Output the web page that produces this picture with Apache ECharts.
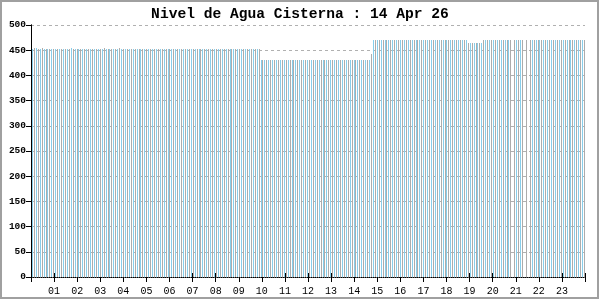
<!DOCTYPE html>
<html><head><meta charset="utf-8">
<script src="https://cdn.jsdelivr.net/npm/echarts@6/dist/echarts.min.js"></script>
<style>html,body{margin:0;padding:0;background:#fff}#c{width:600px;height:300px}</style>
</head><body><div id="c"></div>
<script>
const chartTitle = 'Nivel de Agua Cisterna : 14 Apr 26';
const hourLabels = ['01','02','03','04','05','06','07','08','09','10','11','12','13','14','15','16','17','18','19','20','21','22','23'];
// water level of each reading slot of the day (null = missing reading)
const levels = [
452,454,455,452,452,454,452,452,452,452,452,452,452,452,452,452,452,452,452,452,454,452,452,452,
452,452,452,452,452,452,452,452,452,452,452,452,452,454,452,452,452,452,452,452,452,454,452,452,
452,452,452,452,452,452,452,452,452,452,452,452,452,452,452,452,452,452,452,452,452,452,452,452,
452,452,452,452,452,452,452,452,452,452,452,452,452,452,452,452,452,452,452,452,452,452,452,452,
452,452,452,452,452,452,452,452,452,452,452,452,452,452,452,452,452,452,452,452,452,452,430,430,
430,430,430,430,430,430,430,430,430,430,430,430,430,430,430,430,430,430,430,430,430,430,430,430,
430,430,430,430,430,430,430,430,430,430,430,430,430,430,430,430,430,430,430,430,430,430,430,430,
430,430,430,430,430,430,430,442,470,470,470,470,470,470,470,470,470,470,470,470,470,470,470,470,
470,470,470,470,470,470,470,470,470,470,470,470,470,470,470,470,470,470,470,470,470,470,470,470,
470,470,470,470,470,470,470,470,470,464,464,464,464,464,464,464,464,470,470,470,470,470,470,470,
470,470,470,470,470,470,470,470,null,470,470,470,470,470,null,470,null,470,470,470,470,470,470,470,
470,470,470,470,470,470,470,470,470,470,470,470,470,470,470,470,470,470,470,470,470,470];
const slotIds = levels.map((_, i) => String(i));
const seriesData = levels.map((v, i) => [i, v]);
const barColors = ['#87ceeb', '#acacac'];
const chart = echarts.init(document.getElementById('c'), null, {renderer: 'canvas'});
const mono = '"Liberation Mono", "DejaVu Sans Mono", monospace';
chart.setOption({
  backgroundColor: '#ffffff',
  animation: false,
  title: {text: chartTitle, left: 'center', top: 2,
    textStyle: {fontFamily: mono, fontSize: 14.6, fontWeight: 'bold', color: '#000'}},
  grid: {left: 31, right: 15, top: 25, bottom: 23},
  xAxis: [{
    type: 'value', min: 0, max: 1440, interval: 60,
    axisLine: {show: true, onZero: false, lineStyle: {color: '#000', type: 'dotted', width: 1}},
    axisTick: {show: true, length: 5, lineStyle: {color: '#000', width: 1}},
    axisLabel: {fontFamily: mono, fontSize: 10, color: '#000', margin: 9,
      formatter: v => (v > 0 && v < 1440) ? hourLabels[v / 60 - 1] : ''},
    splitLine: {show: false}
  }, {
    type: 'category', data: slotIds, position: 'bottom', boundaryGap: true,
    axisLine: {show: false}, axisLabel: {show: false}, axisTick: {show: false}, splitLine: {show: false}
  }, {
    type: 'value', min: 0, max: 1440, interval: 60, position: 'bottom',
    axisLine: {show: false}, axisLabel: {show: false}, splitLine: {show: false},
    axisTick: {show: true, inside: true, length: 4, lineStyle: {color: '#000', width: 1}}
  }],
  yAxis: [{
    type: 'value', min: 0, max: 500, interval: 50,
    axisLine: {show: true, lineStyle: {color: '#000', width: 1}},
    axisTick: {show: true, length: 5, lineStyle: {color: '#000'}},
    axisLabel: {fontFamily: mono, fontSize: 9.5, fontWeight: 'bold', color: '#000', margin: 5},
    splitLine: {show: true, lineStyle: {color: '#b0b0b0', type: [3, 3], width: 1}}
  }, {
    type: 'value', min: 0, max: 500, interval: 50, position: 'right',
    axisLine: {show: true, lineStyle: {color: '#000', width: 1}},
    axisTick: {show: false}, axisLabel: {show: false}, splitLine: {show: false}
  }],
  graphic: [{type: 'rect', shape: {x: 1, y: 1, width: 597, height: 297},
    style: {fill: 'none', stroke: '#a0a0a0', lineWidth: 2}, silent: true, z: 100}],
  series: [{
    type: 'custom',
    xAxisIndex: 1,
    data: seriesData,
    encode: {x: 0, y: 1},
    renderItem: (params, api) => {
      const v = api.value(1);
      if (v == null || isNaN(v)) return null;
      const top = api.coord([api.value(0), v]);
      const base = api.coord([api.value(0), 0]);
      const x = Math.round(top[0]);
      const y = Math.round(top[1]);
      return {type: 'rect',
        shape: {x: x, y: y, width: 1, height: Math.round(base[1]) - y},
        style: {fill: barColors[params.dataIndex % 2]}};
    }
  }]
});
</script></body></html>
